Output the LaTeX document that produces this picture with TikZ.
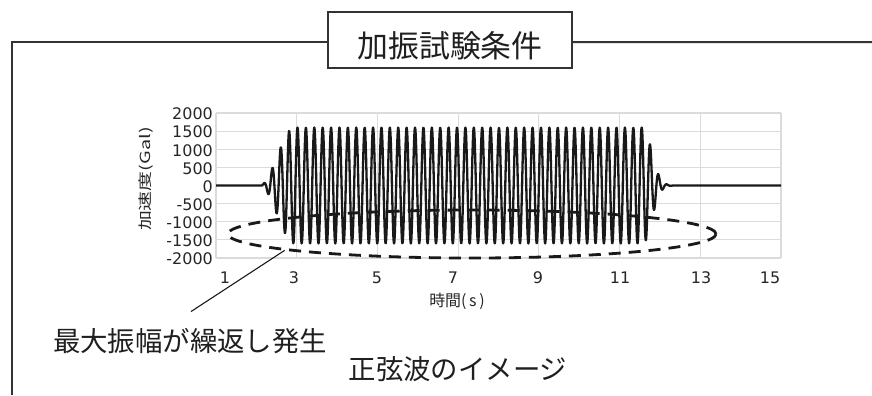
\documentclass[tikz,border=0pt]{standalone}
\usepackage{fontspec}
\usepackage{graphicx}
\usetikzlibrary{shapes.geometric}
\newfontfamily\jpfont{Noto Sans CJK JP}
\newfontfamily\numfont{DejaVu Sans}
\begin{document}
\begin{tikzpicture}[x=1bp,y=-1bp,
  frame/.style={draw=black!80,line width=2bp},
  gridline/.style={draw=black!14,line width=1.2bp},
  wave/.style={draw=black!90,line width=2.3bp,line join=round},
  ytick/.style={font=\numfont\fontsize{16}{16}\selectfont,anchor=east,inner sep=0pt,text=black!85},
  xtick/.style={font=\numfont\fontsize{16}{16}\selectfont,anchor=center,inner sep=0pt,text=black!85},
  axlabel/.style={font=\jpfont\fontsize{16}{18}\selectfont,inner sep=0pt,text=black!85},
  big/.style={font=\jpfont\fontsize{27.5}{30}\selectfont,inner sep=0pt,text=black!88},
  ellip/.style={ellipse,draw=black!90,line width=2.8bp,dash pattern=on 12bp off 8bp,inner sep=0pt},
  leader/.style={draw=black!90,line width=1.1bp},
]
\useasboundingbox (0,0) rectangle (872,395);

% grid
\foreach \k in {0,...,8} \draw[gridline] (216,{113+\k*18.125}) -- (781,{113+\k*18.125});
\foreach \k in {0,...,7} \draw[gridline] ({216+\k*80.714},113) -- ({216+\k*80.714},258);

% y tick labels
\foreach \v [count=\k from 0] in {2000,1500,1000,500,0,-500,-1000,-1500,-2000}
  \node[ytick] (yt\k) at (213,{114+\k*18.125}) {\v};
% x tick labels
\foreach \x/\l in {225/1,294/3,377/5,453/7,538/9,620/11,701/13,770/15}
  \node[xtick] (xt\l) at (\x,278) {\l};

% axis titles
\node[axlabel] (xlab) at (457,301) {時間(\,s\,)};
\node[axlabel,font=\jpfont\fontsize{20}{22}\selectfont,rotate=90] (ylab) at (146,179) {\scalebox{1}[0.7]{加速度(Gal)}};

% waveform
\draw[wave] (216,185.5) -- (260,185.5)
  -- plot[domain=260:294,samples=90] (\x,{185.5-58*((\x-260)/34)*((\x-260)/34)*(3-2*(\x-260)/34)*cos(360*mod(\x-297.5,8.395)/8.395)})
  -- plot[domain=294:643,samples=1100] (\x,{185.5-58*cos(360*mod(\x-297.5,8.395)/8.395)})
  -- plot[domain=643:690,samples=150] (\x,{185.5-58*exp(-((\x-643)/12)*((\x-643)/12))*cos(360*mod(\x-297.5,8.395)/8.395)})
  -- (781,185.5);

% dashed ellipse
\node[ellip,minimum width=488bp,minimum height=48bp] (ell) at (472,234) {};

% title and frame
\node[frame,minimum width=244bp,minimum height=56bp,inner sep=0pt,
      font=\jpfont\fontsize{31}{34}\selectfont,text=black!88,
      text height=36bp,text depth=0.2bp] (title) at (450,40) {加振試験条件\hspace{16bp}};
\draw[frame] (12,395) |- ([yshift=-2bp]title.west);
\draw[frame] ([yshift=-2bp]title.east) -- (872,42);

% annotations
\node[big] (ann) at (190,341.5) {最大振幅が繰返し発生};
\node[big] (sine) at (458,369) {正弦波のイメージ};
\draw[leader] ([xshift=1bp,yshift=17bp]ann.north) -- (ell.185.6);
\end{tikzpicture}
\end{document}
